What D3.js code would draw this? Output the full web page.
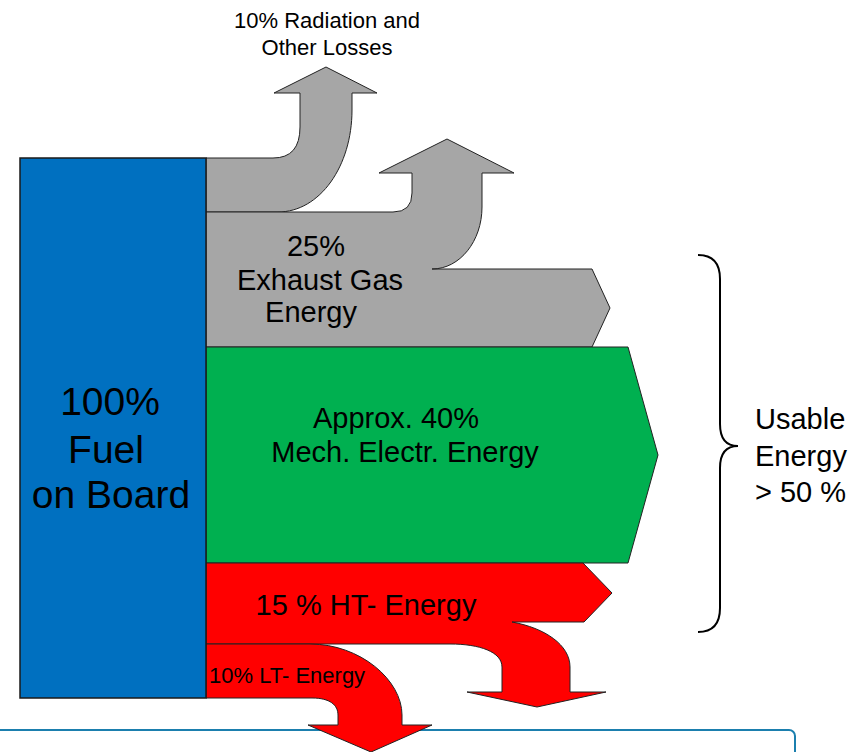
<!DOCTYPE html>
<html>
<head>
<meta charset="utf-8">
<script src="https://cdn.jsdelivr.net/npm/d3@7"></script>
<style>
  body { margin: 0; background: #fff; }
  svg text { font-family: "Liberation Sans", Arial, sans-serif; fill: #000; }
</style>
</head>
<body>
<div id="canvas" style="width:865px;height:752px"></div>
<script>
// energy balance of the engine (share of fuel energy, %)
var flows = ['radiation', 'exhaust', 'mech', 'ht', 'lt'];
var shares = [10, 25, 40, 15, 10];

var sourceLines = ['100%', 'Fuel', 'on Board'];
var radiationLines = ['10% Radiation and', 'Other Losses'];
var exhaustLines = ['25%', 'Exhaust Gas', 'Energy'];
var mechLines = ['Approx. 40%', 'Mech. Electr. Energy'];
var htLines = ['15 % HT- Energy'];
var ltLines = ['10% LT- Energy'];
var usableLines = ['Usable', 'Energy', '> 50 %'];

var canvasWidth = 865, canvasHeight = 752;

var svg = d3.select('#canvas')
    .append('svg')
    .attr('width', canvasWidth)
    .attr('height', canvasHeight);

// the fuel box spans the whole 100 %
var y = d3.scaleLinear().domain([0, 100]).range([158, 698]);
var cum = [0].concat(Array.from(d3.cumsum(shares)));
var band = {};
flows.forEach(function(f, i) { band[f] = [y(cum[i]), y(cum[i + 1])]; });

var boxL = 20, boxR = 206;

var fills = {radiation: '#a6a6a6', exhaust: '#a6a6a6', mech: '#00b050', ht: '#ff0000', lt: '#ff0000'};

// bottom frame (behind the arrows)
svg.append('rect')
    .attr('x', -20).attr('y', 730)
    .attr('width', 815).attr('height', 80)
    .attr('rx', 6)
    .style('fill', 'none')
    .style('stroke', '#1b7fae')
    .style('stroke-width', 2);

function radiationPath(t, b) {
    var p = d3.path();
    p.moveTo(boxR, t);
    p.lineTo(273, t);
    p.quadraticCurveTo(300, t, 300, t - 31);
    p.lineTo(300, 93);
    p.lineTo(274, 93);
    p.lineTo(326, 67);
    p.lineTo(377, 93);
    p.lineTo(352, 93);
    p.lineTo(352, 110);
    p.bezierCurveTo(352, 166, 320, b, 278, b);
    p.lineTo(boxR, b);
    p.closePath();
    return p.toString();
}

function exhaustPath(t, b) {
    var p = d3.path();
    p.moveTo(boxR, t);
    p.lineTo(393, t);
    p.quadraticCurveTo(412, t, 412, t - 19);
    p.lineTo(412, 173);
    p.lineTo(379, 173);
    p.lineTo(447, 139);
    p.lineTo(514, 173);
    p.lineTo(482, 173);
    p.lineTo(482, 207);
    p.bezierCurveTo(482, 241, 460, 269, 432, 269);
    p.lineTo(592, 269);
    p.lineTo(610, (269 + b) / 2);
    p.lineTo(592, b);
    p.lineTo(boxR, b);
    p.closePath();
    return p.toString();
}

function mechPath(t, b) {
    var p = d3.path();
    p.moveTo(boxR, t);
    p.lineTo(628, t);
    p.lineTo(658, (t + b) / 2);
    p.lineTo(628, b);
    p.lineTo(boxR, b);
    p.closePath();
    return p.toString();
}

function htPath(t, b) {
    var p = d3.path();
    p.moveTo(boxR, t);
    p.lineTo(583, t);
    p.lineTo(612, 593);
    p.lineTo(584, 622);
    p.lineTo(512, 622);
    p.bezierCurveTo(545, 628, 570, 645, 570, 667);
    p.lineTo(570, 692);
    p.lineTo(606, 692);
    p.lineTo(537, 707);
    p.lineTo(467, 692);
    p.lineTo(502, 692);
    p.lineTo(502, 667);
    p.bezierCurveTo(502, 652, 480, b, 450, b);
    p.lineTo(boxR, b);
    p.closePath();
    return p.toString();
}

function ltPath(t, b) {
    var p = d3.path();
    p.moveTo(boxR, t);
    p.lineTo(310, t);
    p.bezierCurveTo(360, t, 402, 680, 402, 715);
    p.lineTo(402, 725);
    p.lineTo(432, 725);
    p.lineTo(371, 752);
    p.lineTo(308, 725);
    p.lineTo(338, 725);
    p.lineTo(338, 715);
    p.bezierCurveTo(338, 705, 330, b, 312, b);
    p.lineTo(boxR, b);
    p.closePath();
    return p.toString();
}

var shapes = {radiation: radiationPath, exhaust: exhaustPath, mech: mechPath, ht: htPath, lt: ltPath};

svg.selectAll('path.flow')
    .data(flows)
    .enter()
    .append('path')
    .attr('class', 'flow')
    .attr('d', function(f) { return shapes[f](band[f][0], band[f][1]); })
    .style('fill', function(f) { return fills[f]; })
    .style('stroke', '#222')
    .style('stroke-width', 1);

// fuel box
svg.append('rect')
    .attr('x', boxL).attr('y', y(0))
    .attr('width', boxR - boxL).attr('height', y(100) - y(0))
    .style('fill', '#0070c0')
    .style('stroke', '#1a1a1a')
    .style('stroke-width', 1.5);

function addLines(lines, xs, ys, size, anchor) {
    lines.forEach(function(s, i) {
        svg.append('text')
            .attr('x', xs[i]).attr('y', ys[i])
            .attr('text-anchor', anchor || 'middle')
            .style('font-size', size + 'px')
            .text(s);
    });
}

addLines(sourceLines, [110, 106, 111], [415, 463, 508], 39);
addLines(radiationLines, [327, 327], [28, 55], 22);
addLines(exhaustLines, [316, 320, 311], [256, 290, 322], 29);
addLines(mechLines, [396, 405], [428, 462], 29);
addLines(htLines, [366], [615], 29);
addLines(ltLines, [209], [683], 22, 'start');
addLines(usableLines, [755, 755, 755], [429, 466, 502], 29, 'start');

// brace for the usable energy
var bTop = 255, bBot = 632, bMid = 446, bx = 720;
var brace = d3.path();
brace.moveTo(698, bTop);
brace.quadraticCurveTo(bx, bTop, bx, bTop + 24);
brace.lineTo(bx, bMid - 22);
brace.quadraticCurveTo(bx, bMid, 738, bMid);
brace.quadraticCurveTo(bx, bMid, bx, bMid + 22);
brace.lineTo(bx, bBot - 24);
brace.quadraticCurveTo(bx, bBot, 698, bBot);
svg.append('path')
    .attr('d', brace.toString())
    .style('fill', 'none')
    .style('stroke', '#000')
    .style('stroke-width', 2);
</script>
</body>
</html>
